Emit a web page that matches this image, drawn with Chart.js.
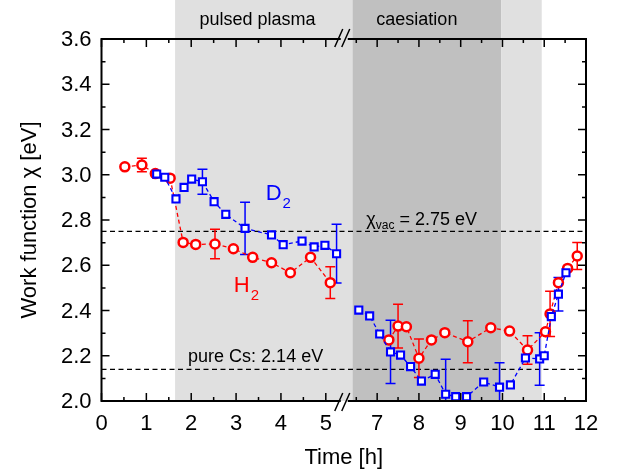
<!DOCTYPE html>
<html><head><meta charset="utf-8">
<script src="https://cdn.jsdelivr.net/npm/chart.js@4/dist/chart.umd.min.js"></script>
<style>html,body{margin:0;padding:0;background:#fff}#wrap{width:621px;height:475px;position:relative}</style>
</head><body><div id="wrap"><canvas id="c"></canvas></div>
<script>
// ---- data (time in h, work function in eV) ----
const H2_TIME = [0.52,0.90,1.20,1.53,1.82,2.10,2.53,2.94,3.37,3.79,4.21,4.66,5.10,
                 7.28,7.50,7.70,8.00,8.30,8.62,9.17,9.72,10.17,10.60,11.03,11.14,11.34,11.56,11.79];
const H2_WF   = [3.035,3.043,3.005,2.985,2.701,2.692,2.694,2.673,2.635,2.611,2.567,2.635,2.523,
                 2.270,2.331,2.328,2.189,2.270,2.302,2.262,2.324,2.309,2.225,2.306,2.385,2.523,2.586,2.641];
const H2_ERR  = [null,0.03,null,null,null,null,0.065,null,null,null,null,null,0.07,
                 null,0.097,null,0.085,null,null,0.093,null,null,0.063,null,0.10,null,null,0.06];
const D2_TIME = [1.23,1.41,1.66,1.84,2.01,2.25,2.51,2.77,3.20,3.79,4.05,4.47,4.74,4.98,5.24,
                 6.56,6.82,7.06,7.32,7.56,7.80,8.06,8.39,8.64,8.88,9.14,9.55,9.93,10.19,10.55,10.89,11.00,11.17,11.34,11.52];
const D2_WF   = [3.003,2.989,2.893,2.944,2.981,2.969,2.881,2.825,2.763,2.734,2.691,2.707,2.681,2.688,2.651,
                 2.402,2.376,2.296,2.217,2.203,2.152,2.088,2.118,2.030,2.019,2.019,2.084,2.061,2.071,2.190,2.186,2.200,2.373,2.472,2.567];
const D2_ERR  = [null,null,null,null,null,0.055,null,null,0.115,null,null,null,null,null,0.13,
                 null,null,null,0.14,null,null,null,null,0.155,null,null,null,0.108,null,null,0.116,null,null,0.074,null];
const X_TICKS_LEFT = [0,1,2,3,4,5];
const X_TICKS_RIGHT = [7,8,9,10,11,12];
const X_MINOR_LEFT = [0.5,1.5,2.5,3.5,4.5];
const X_MINOR_RIGHT = [6.5,7.5,8.5,9.5,10.5,11.5];
const Y_TICKS = [2.0,2.2,2.4,2.6,2.8,3.0,3.2,3.4,3.6];
const Y_MINOR = [2.1,2.3,2.5,2.7,2.9,3.1,3.3,3.5];
const BREAK_FROM = 5.4, BREAK_TO = 6.2;
const PULSED_START = 1.64, CAES_START = 6.41, CAES_END = 9.97, AFTER_END = 10.94;
const REF_VAC = 2.75, REF_CS = 2.14;

const RED = '#ff0000', BLUE = '#0000ff';
const FONT = '"Liberation Sans", Arial, Helvetica, sans-serif';

function seg(times, vals, errs, left){
  const out = [];
  times.forEach((t,i)=>{ if ((t <= BREAK_FROM) === left) out.push({x:t, y:vals[i], err:errs[i]}); });
  return out;
}
function ds(label, data, color, axis, style){
  return {label, data, xAxisID: axis, showLine: true, borderColor: color, borderWidth: 1.3,
    borderDash: [4,3], pointStyle: style, pointRadius: style==='rect'?5:4.5,
    pointBorderWidth: style==='rect'?2.1:2.5, pointBackgroundColor:'#fff', pointBorderColor: color,
    pointHoverRadius: 4, fill:false, tension:0};
}

const plugin = {
  id: 'wf',
  beforeDatasetsDraw(chart){
    const {ctx, chartArea:a, scales:{x1,x2,y}} = chart;
    ctx.save();
    const p1 = x1.getPixelForValue(PULSED_START), pb = x2.getPixelForValue(CAES_START),
          pc = x2.getPixelForValue(CAES_END), pd = x2.getPixelForValue(AFTER_END);
    ctx.fillStyle = '#e0e0e0'; ctx.fillRect(p1, 0, pb-p1, a.bottom);
    ctx.fillStyle = '#c0c0c0'; ctx.fillRect(pb, 0, pc-pb, a.bottom);
    ctx.fillStyle = '#e0e0e0'; ctx.fillRect(pc, 0, pd-pc, a.bottom);
    // reference lines
    ctx.strokeStyle = '#000'; ctx.lineWidth = 1.2; ctx.setLineDash([5,3.5]);
    [REF_VAC, REF_CS].forEach(v=>{ const py = y.getPixelForValue(v);
      ctx.beginPath(); ctx.moveTo(a.left, py); ctx.lineTo(a.right, py); ctx.stroke(); });
    ctx.setLineDash([]);
    // error bars
    ctx.beginPath(); ctx.rect(a.left, a.top, a.right-a.left, a.bottom-a.top); ctx.clip();
    chart.data.datasets.forEach((d)=>{
      const xs = chart.scales[d.xAxisID];
      ctx.strokeStyle = d.borderColor; ctx.lineWidth = 1.5;
      d.data.forEach(p=>{ if (p.err == null) return;
        const px = xs.getPixelForValue(p.x), t = y.getPixelForValue(p.y+p.err), b = y.getPixelForValue(p.y-p.err);
        ctx.beginPath(); ctx.moveTo(px,t); ctx.lineTo(px,b);
        ctx.moveTo(px-5,t); ctx.lineTo(px+5,t); ctx.moveTo(px-5,b); ctx.lineTo(px+5,b); ctx.stroke();
      });
    });
    ctx.restore();
  },
  afterDraw(chart){
    const {ctx, chartArea:a, scales:{x1,x2,y}} = chart;
    ctx.save();
    const xb = x1.getPixelForValue(BREAK_FROM);
    ctx.strokeStyle = '#000'; ctx.lineCap = 'butt';
    // frame
    ctx.lineWidth = 2;
    ctx.beginPath();
    ctx.moveTo(xb-3, a.top); ctx.lineTo(a.left, a.top); ctx.lineTo(a.left, a.bottom); ctx.lineTo(xb-3, a.bottom);
    ctx.moveTo(xb+4, a.bottom); ctx.lineTo(a.right, a.bottom); ctx.lineTo(a.right, a.top); ctx.lineTo(xb+4, a.top);
    ctx.stroke();
    // break marks
    ctx.lineWidth = 1.5;
    ctx.beginPath();
    [[a.bottom,10,8],[a.top,8,10]].forEach(([yy,dn,up])=>{
      ctx.moveTo(xb-9, yy+dn); ctx.lineTo(xb-1, yy-up);
      ctx.moveTo(xb-2, yy+dn); ctx.lineTo(xb+6, yy-up);
    });
    ctx.stroke();
    // ticks
    ctx.lineWidth = 1.5;
    ctx.beginPath();
    const xt = (sc, v, len)=>{ const px = sc.getPixelForValue(v);
      ctx.moveTo(px, a.bottom); ctx.lineTo(px, a.bottom-len); ctx.moveTo(px, a.top); ctx.lineTo(px, a.top+len); };
    X_TICKS_LEFT.forEach(v=>xt(x1,v,8)); X_MINOR_LEFT.forEach(v=>xt(x1,v,4));
    X_TICKS_RIGHT.forEach(v=>xt(x2,v,8)); X_MINOR_RIGHT.forEach(v=>xt(x2,v,4));
    const yt = (v,len)=>{ const py = y.getPixelForValue(v);
      ctx.moveTo(a.left, py); ctx.lineTo(a.left+len, py); ctx.moveTo(a.right, py); ctx.lineTo(a.right-len, py); };
    Y_TICKS.forEach(v=>yt(v,8)); Y_MINOR.forEach(v=>yt(v,4));
    ctx.stroke();
    // tick labels
    ctx.fillStyle = '#000';
    ctx.font = '22px ' + FONT;
    ctx.textAlign = 'center'; ctx.textBaseline = 'alphabetic';
    X_TICKS_LEFT.forEach(v=>ctx.fillText(String(v), x1.getPixelForValue(v), a.bottom+29));
    X_TICKS_RIGHT.forEach(v=>ctx.fillText(String(v), x2.getPixelForValue(v), a.bottom+29));
    ctx.textAlign = 'right'; ctx.textBaseline = 'middle';
    Y_TICKS.forEach(v=>ctx.fillText(v.toFixed(1), a.left-10, y.getPixelForValue(v)+1));
    // axis titles
    ctx.font = '22px ' + FONT; ctx.textAlign = 'center'; ctx.textBaseline = 'alphabetic';
    ctx.fillText('Time [h]', (a.left+a.right)/2, a.bottom+63);
    ctx.save(); ctx.translate(36, (a.top+a.bottom)/2); ctx.rotate(-Math.PI/2);
    ctx.fillText('Work function χ [eV]', 0, 0); ctx.restore();
    // phase labels
    ctx.font = '18px ' + FONT;
    const p1 = x1.getPixelForValue(PULSED_START), pb = x2.getPixelForValue(CAES_START), pc = x2.getPixelForValue(CAES_END);
    ctx.fillText('pulsed plasma', (p1+xb)/2 - 2, 25);
    ctx.fillText('caesiation', (pb+pc)/2 - 10, 25);
    // reference labels
    ctx.textAlign = 'left';
    ctx.fillText('pure Cs: 2.14 eV', x1.getPixelForValue(1.93), y.getPixelForValue(2.172));
    let tx = x2.getPixelForValue(6.74), ty = y.getPixelForValue(2.778);
    ctx.fillText('χ', tx, ty); tx += ctx.measureText('χ').width;
    ctx.font = '12px ' + FONT; ctx.fillText('vac', tx, ty+4); tx += ctx.measureText('vac').width;
    ctx.font = '18px ' + FONT; ctx.fillText(' = 2.75 eV', tx, ty);
    // series labels
    const lab = (main, sub, color, sc, xv, yv)=>{
      let px = sc.getPixelForValue(xv), py = y.getPixelForValue(yv);
      ctx.fillStyle = color; ctx.font = '22px ' + FONT; ctx.fillText(main, px, py);
      px += ctx.measureText(main).width + 1;
      ctx.font = '15px ' + FONT; ctx.fillText(sub, px, py+8);
    };
    lab('D', '2', BLUE, x1, 3.66, 2.888);
    lab('H', '2', RED, x1, 2.95, 2.482);
    ctx.restore();
  }
};

new Chart(document.getElementById('c'), {
  type: 'scatter',
  data: { datasets: [
    ds('D2', seg(D2_TIME, D2_WF, D2_ERR, true), BLUE, 'x1', 'rect'),
    ds('D2', seg(D2_TIME, D2_WF, D2_ERR, false), BLUE, 'x2', 'rect'),
    ds('H2', seg(H2_TIME, H2_WF, H2_ERR, true), RED, 'x1', 'circle'),
    ds('H2', seg(H2_TIME, H2_WF, H2_ERR, false), RED, 'x2', 'circle')
  ]},
  options: {
    responsive: true, maintainAspectRatio: false, animation: false,
    layout: { padding: { left: 101.5, right: 35, top: 39, bottom: 74 } },
    plugins: { legend: {display:false}, tooltip: {enabled:false}, title:{display:false} },
    scales: {
      // left segment 0..5.4 occupies left half, right segment 6.2..12 the right half
      x1: { type:'linear', display:false, min: 0, max: 2*BREAK_FROM },
      x2: { type:'linear', display:false, min: 12 - 2*(12-BREAK_TO), max: 12 },
      y:  { type:'linear', display:false, min: 2.0, max: 3.6 }
    }
  },
  plugins: [plugin]
});
</script></body></html>
